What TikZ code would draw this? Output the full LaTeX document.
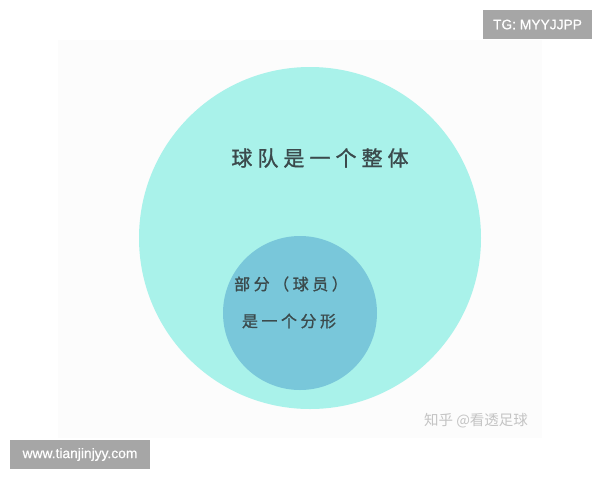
\documentclass[tikz,border=0pt]{standalone}
\usepackage{fontspec}
\setmainfont{Liberation Sans}
\newfontfamily\cjk{Noto Sans CJK SC}
\usepackage{xcolor}
\usepackage{tikz}
\usetikzlibrary{positioning}
\definecolor{wholecol}{HTML}{A9F2EA}
\definecolor{partcol}{HTML}{79C7DA}
\definecolor{inkcol}{HTML}{3B4A4C}
\definecolor{tagcol}{HTML}{A6A6A6}
\definecolor{markcol}{HTML}{C4C4C4}
\tikzset{
    setcircle/.style={circle, draw=none, inner sep=0pt},
    bigtext/.style={text=inkcol, inner sep=0pt, font=\cjk\fontsize{21}{24}\selectfont\addfontfeature{LetterSpace=24, FakeBold=1.2}},
    smalltext/.style={text=inkcol, inner sep=0pt, font=\cjk\fontsize{16}{18}\selectfont\addfontfeature{LetterSpace=22, FakeBold=1}},
    tag/.style={rectangle, fill=tagcol, text=white, inner sep=0pt, font=\fontsize{13.8}{15}\selectfont\addfontfeature{FakeBold=0.6}},
    watermark/.style={text=markcol, inner sep=0pt, font=\cjk\fontsize{14.5}{16}\selectfont}
}

\begin{document}
\begin{tikzpicture}[x=1pt, y=-1pt]
    \useasboundingbox (0,0) rectangle (600,480);
    % Panel
    \fill[black!1] (58,40) rectangle (542,438);

    % Whole (team)
    \node[setcircle, fill=wholecol, minimum size=342pt] (whole) at (310,238) {};
    \node[bigtext] (wholetxt) at (320,158) {球队是一个整体};

    % Part (player)
    \node[setcircle, fill=partcol, minimum size=154pt] (part) at (300,313) {};
    \node[smalltext] (parttxt) at (291,284) {部分（球员）};
    \node[smalltext] (fractxt) at (289,321) {是一个分形};

    % Marks
    \node[watermark] (src) at (476,421) {知乎 @看透足球};
    \node[tag, minimum width=109pt, minimum height=29pt] (tg) at (537.5,24.5) {TG: MYYJJPP};
    \node[tag, minimum width=140pt, minimum height=29pt] (site) at (80,454.5) {www.tianjinjyy.com};
\end{tikzpicture}
\end{document}
